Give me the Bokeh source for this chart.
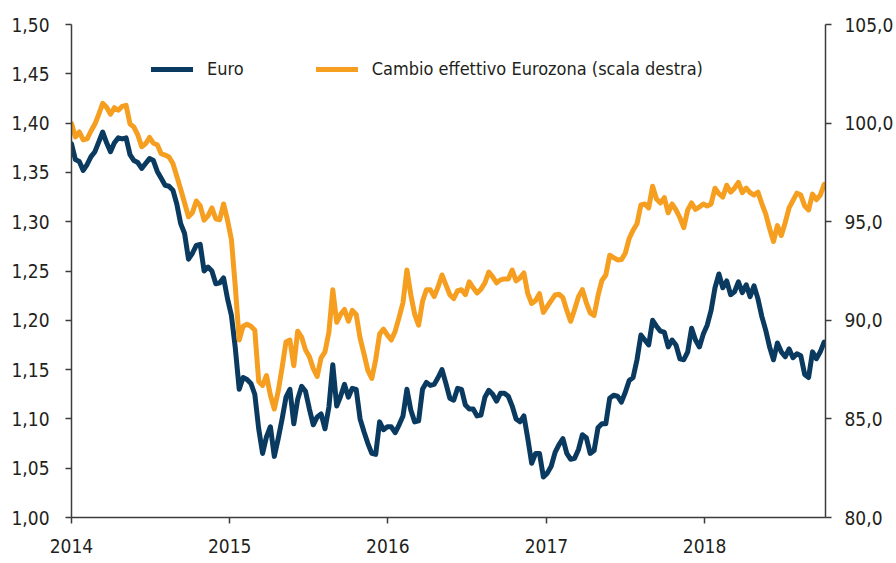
import pandas as pd
from bokeh.plotting import figure
from bokeh.models import (Range1d, LinearAxis, FixedTicker, CustomJSTickFormatter,
                          Legend, LegendItem, ColumnDataSource)
from bokeh.embed import file_html
from bokeh.resources import INLINE

# Series sampled every 9 days from 1 Jan 2014
start_date = "2014-01-01"
step = "9D"

# USD per euro (left axis)
euro = [
    1.379, 1.363, 1.361, 1.352, 1.358, 1.366, 1.371, 1.381, 1.391, 1.380,
    1.371, 1.380, 1.385, 1.384, 1.385, 1.368, 1.362, 1.360, 1.354, 1.359,
    1.364, 1.362, 1.351, 1.344, 1.337, 1.336, 1.332, 1.318, 1.298, 1.288,
    1.262, 1.268, 1.276, 1.277, 1.250, 1.254, 1.250, 1.237, 1.238, 1.243,
    1.222, 1.205, 1.172, 1.130, 1.142, 1.140, 1.136, 1.125, 1.090, 1.065,
    1.082, 1.092, 1.062, 1.080, 1.100, 1.122, 1.130, 1.095, 1.120, 1.133,
    1.128, 1.110, 1.094, 1.102, 1.105, 1.090, 1.112, 1.155, 1.113, 1.123,
    1.135, 1.122, 1.131, 1.130, 1.100, 1.087, 1.075, 1.065, 1.064, 1.097,
    1.089, 1.092, 1.092, 1.086, 1.094, 1.103, 1.130, 1.109, 1.097, 1.098,
    1.130, 1.137, 1.134, 1.135, 1.142, 1.150, 1.136, 1.121, 1.119, 1.131,
    1.130, 1.114, 1.110, 1.110, 1.103, 1.104, 1.122, 1.129, 1.125, 1.118,
    1.126, 1.126, 1.123, 1.113, 1.100, 1.097, 1.103, 1.080, 1.055, 1.065,
    1.065, 1.041, 1.045, 1.052, 1.066, 1.074, 1.080, 1.065, 1.059, 1.060,
    1.069, 1.084, 1.081, 1.065, 1.068, 1.091, 1.095, 1.095, 1.121, 1.124,
    1.123, 1.117, 1.127, 1.139, 1.142, 1.160, 1.185, 1.180, 1.175, 1.200,
    1.194, 1.189, 1.188, 1.173, 1.180, 1.175, 1.161, 1.160, 1.168, 1.192,
    1.180, 1.173, 1.186, 1.195, 1.210, 1.233, 1.247, 1.233, 1.240, 1.226,
    1.229, 1.239, 1.228, 1.236, 1.224, 1.235, 1.222, 1.204, 1.190, 1.173,
    1.160, 1.177, 1.168, 1.163, 1.171, 1.162, 1.166, 1.164, 1.145, 1.142,
    1.168, 1.161, 1.168, 1.178,
]

# Euro-area nominal effective exchange rate (right axis)
neer = [
    99.98, 99.30, 99.55, 99.15, 99.20, 99.60, 99.95, 100.45, 101.00, 100.80,
    100.45, 100.78, 100.65, 100.85, 100.90, 99.95, 99.80, 99.40, 98.80, 98.95,
    99.27, 98.98, 98.90, 98.45, 98.38, 98.28, 97.95, 97.30, 96.65, 95.95,
    95.25, 95.45, 96.05, 95.80, 95.08, 95.30, 95.70, 95.15, 95.10, 95.90,
    95.08, 94.10, 91.70, 89.00, 89.70, 89.80, 89.70, 89.50, 86.90, 86.70,
    87.20, 86.20, 85.50, 86.40, 87.60, 88.90, 89.00, 87.70, 89.45, 89.15,
    88.50, 88.15, 87.55, 87.15, 88.10, 88.40, 89.40, 91.55, 89.90, 90.30,
    90.55, 89.95, 90.50, 90.30, 89.10, 88.30, 87.45, 87.05, 88.00, 89.30,
    89.55, 89.25, 89.00, 89.45, 90.15, 90.90, 92.55, 91.30, 90.30, 89.75,
    90.95, 91.55, 91.55, 91.20, 91.70, 92.30, 91.80, 91.30, 91.10, 91.50,
    91.55, 91.30, 91.95, 91.65, 91.38, 91.58, 91.90, 92.45, 92.20, 91.90,
    92.05, 92.10, 92.10, 92.55, 92.00, 92.15, 92.40, 91.35, 90.85, 91.00,
    91.35, 90.40, 90.70, 91.00, 91.28, 91.32, 91.15, 90.50, 89.95, 90.55,
    91.20, 91.55, 90.90, 90.38, 90.25, 91.25, 92.02, 92.30, 93.30, 93.18,
    93.06, 93.08, 93.40, 94.15, 94.57, 94.90, 95.85, 95.90, 95.70, 96.80,
    96.15, 95.95, 96.22, 95.45, 95.90, 95.60, 95.20, 94.70, 95.60, 95.95,
    95.62, 95.75, 95.90, 95.80, 95.90, 96.70, 96.42, 96.25, 96.85, 96.50,
    96.70, 97.00, 96.47, 96.70, 96.47, 96.35, 96.50, 95.92, 95.40, 94.65,
    94.00, 94.80, 94.30, 94.95, 95.70, 96.08, 96.45, 96.35, 95.80, 95.60,
    96.40, 96.12, 96.35, 96.90,
]

year_ticks = [2014, 2015, 2016, 2017, 2018]
left_ticks = [1.00, 1.05, 1.10, 1.15, 1.20, 1.25, 1.30, 1.35, 1.40, 1.45, 1.50]
right_ticks = [80, 85, 90, 95, 100, 105]

label_euro = "Euro"
label_neer = "Cambio effettivo Eurozona (scala destra)"

NAVY = "#0a3a5f"
ORANGE = "#f59e1f"
INK = "#231f20"
FONT = "'DejaVu Sans Condensed', sans-serif"

dates = pd.date_range(start_date, periods=len(euro), freq=step)
src = ColumnDataSource(dict(date=dates, euro=euro, neer=neer))

p = figure(width=896, height=563, x_axis_type="datetime",
           output_backend="svg", toolbar_location=None,
           x_range=Range1d(pd.Timestamp("2014-01-01"), pd.Timestamp("2018-10-07")),
           y_range=Range1d(1.0, 1.5),
           min_border_left=71, min_border_right=70,
           min_border_top=24, min_border_bottom=46)
p.extra_y_ranges = {"right": Range1d(80, 105)}
p.outline_line_color = None
p.xgrid.visible = False
p.ygrid.visible = False
p.background_fill_color = "white"
p.border_fill_color = "white"

r_euro = p.line("date", "euro", source=src, color=NAVY, line_width=5,
                line_join="round", line_cap="round")
r_neer = p.line("date", "neer", source=src, color=ORANGE, line_width=5,
                line_join="round", line_cap="round", y_range_name="right")

right_axis = LinearAxis(y_range_name="right")
p.add_layout(right_axis, "right")


def style_axis(ax, standoff):
    ax.axis_line_color = "#3c3c3c"
    ax.axis_line_width = 1.5
    ax.major_tick_line_color = "#3c3c3c"
    ax.major_tick_line_width = 1.5
    ax.major_tick_in = 0
    ax.major_tick_out = 6
    ax.minor_tick_line_color = None
    ax.major_label_text_font = FONT
    ax.major_label_text_font_size = "19px"
    ax.major_label_text_color = INK
    ax.major_label_standoff = standoff


xa = p.xaxis[0]
xa.ticker = FixedTicker(ticks=[pd.Timestamp(f"{y}-01-01").timestamp() * 1000 for y in year_ticks])
xa.formatter = CustomJSTickFormatter(code="return String(new Date(tick).getUTCFullYear());")
style_axis(xa, 15)

ya = p.yaxis[0]
ya.ticker = FixedTicker(ticks=left_ticks)
ya.formatter = CustomJSTickFormatter(code="return tick.toFixed(2).replace('.', ',');")
style_axis(ya, 16)

right_axis.ticker = FixedTicker(ticks=right_ticks)
right_axis.formatter = CustomJSTickFormatter(code="return tick.toFixed(1).replace('.', ',');")
style_axis(right_axis, 13)

legend = Legend(items=[LegendItem(label=label_euro, renderers=[r_euro]),
                       LegendItem(label=label_neer, renderers=[r_neer])],
                orientation="horizontal", location=(80, 438),
                padding=0, margin=0, spacing=72,
                glyph_width=42, glyph_height=20, label_height=20,
                label_standoff=14,
                label_text_font=FONT, label_text_font_size="18px",
                label_text_color=INK,
                border_line_alpha=0, background_fill_alpha=0)
p.add_layout(legend)

open("out.html", "w").write(file_html(p, INLINE))
